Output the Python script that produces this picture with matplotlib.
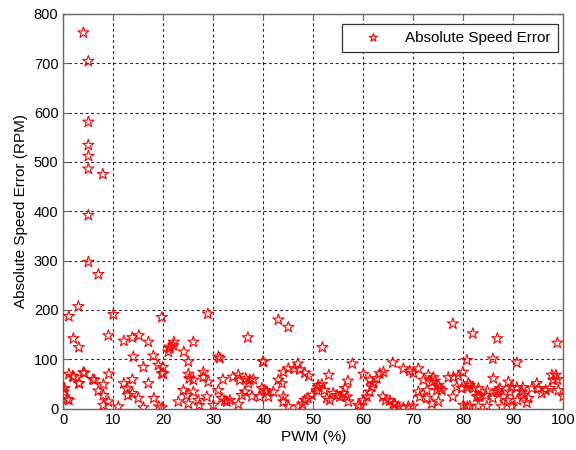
import numpy as np
import matplotlib
matplotlib.use("Agg")
import matplotlib.pyplot as plt

##### DATA #####
# tall spike at low PWM
pwm_low = [4.0, 5.0, 5.0, 5.0, 5.0, 5.0, 7.9, 5.0, 5.0, 7.0, 3.0, 1.1, 10.0, 19.7, 2.0, 3.1, 9.0]
err_low = [762, 704, 581, 534, 512, 486, 475, 392, 297, 272, 207, 187, 191, 185, 142, 124, 148]

# 0-20 % band
pwm_a = [12.1, 13.8, 15.1, 17.0, 14.0, 18.0, 16.0, 19.0, 19.7, 1.1, 2.0, 3.1, 4.2, 6.2,
         8.0, 9.1, 7.0, 8.0, 8.0, 0.2, 1.1, 9.0, 11.0, 12.1, 13.8, 12.7, 13.8, 12.9, 15.0,
         16.0, 17.0, 18.1, 19.1, 0.0, 0.1, 0.8, 4.0, 1.9, 3.2, 5.9]
err_a = [137, 144, 148, 135, 105, 107, 84, 88, 71, 70, 64, 51, 72, 58,
         49, 70, 36, 27, 7, 41, 17, 14, 4, 51, 59, 41, 31, 27, 21,
         2, 51, 21, 4, 41, 34, 19, 73, 66, 51, 59]

# 20-40 % band
pwm_b = [28.9, 36.9, 22.1, 21.2, 21.0, 26.0, 24.1, 25.0, 31.0, 40.0, 19.9, 20.0, 25.0,
         25.2, 26.0, 28.0, 28.0, 29.0, 31.9, 33.9, 35.0, 35.3, 36.5, 37.3, 38.0, 37.0,
         24.0, 24.7, 26.0, 23.0, 25.0, 27.0, 27.2, 28.7, 30.0, 31.0, 31.7, 32.3, 33.3,
         35.0, 35.7, 36.3, 37.7, 39.3, 39.7, 40.7, 19.7, 31.3, 32.7, 22.0, 21.3]
err_b = [192, 144, 135, 125, 115, 135, 115, 95, 105, 95, 84, 71, 70,
         61, 58, 74, 64, 54, 59, 64, 68, 58, 61, 58, 59, 51,
         37, 27, 34, 14, 10, 17, 7, 24, 7, 37, 21, 16, 17,
         9, 27, 34, 25, 24, 41, 34, 2, 102, 14, 128, 122]

# 40-65 % band
pwm_c = [43.0, 45.0, 51.8, 57.8, 60.0, 53.1, 56.9, 46.9, 44.0, 45.0, 46.2, 47.3, 48.3,
         49.1, 43.0, 43.7, 42.0, 40.3, 41.0, 44.0, 44.0, 45.0, 47.0, 47.8, 48.3, 48.9,
         49.7, 50.7, 51.0, 51.7, 50.9, 52.2, 52.7, 53.3, 54.0, 54.7, 55.3, 56.0, 56.3,
         56.7, 57.0, 59.0, 59.3, 60.0, 60.7, 61.3, 61.7, 62.0, 61.3, 63.3, 64.0, 62.7,
         63.9, 64.5, 66.0, 39.9]
err_c = [180, 165, 124, 91, 70, 68, 56, 91, 74, 81, 81, 79, 72,
         66, 58, 51, 34, 37, 24, 24, 14, 4, 4, 9, 17, 21,
         27, 37, 47, 49, 43, 37, 21, 17, 31, 27, 24, 31, 41,
         24, 14, 7, 4, 17, 24, 34, 44, 51, 58, 71, 74, 61,
         24, 17, 10, 95]

# 65-100 % band
pwm_d = [77.9, 81.9, 80.7, 65.9, 68.0, 69.3, 71.0, 70.0, 72.0, 73.0, 74.0, 73.7, 75.0,
         75.3, 74.7, 75.7, 77.0, 78.0, 79.0, 79.9, 78.7, 79.7, 80.7, 81.3, 82.0, 81.0,
         71.0, 71.3, 72.7, 72.7, 73.7, 75.0, 77.9, 65.3, 66.3, 67.0, 68.0, 69.0, 69.9,
         80.0, 80.8, 82.7, 83.0, 86.8, 98.8, 85.9, 90.7, 86.0, 89.0, 89.7, 90.7, 91.9,
         93.7, 94.7, 95.0, 95.7, 97.7, 98.5, 98.0, 98.8, 97.3, 99.0, 100.0, 87.3, 86.8,
         84.8, 84.5, 83.0, 85.9, 88.0, 88.8, 87.7, 84.7, 83.0, 81.3, 90.8, 92.7, 92.0,
         93.0, 89.3, 91.7, 96.5, 89.7, 74.3, 83.3, 87.0]
err_d = [172, 152, 98, 93, 81, 76, 81, 72, 58, 68, 63, 54, 47,
         41, 37, 37, 63, 64, 66, 74, 44, 41, 43, 47, 41, 51,
         34, 24, 37, 21, 10, 14, 24, 16, 9, 4, 2, 4, 5,
         7, 4, 24, 41, 142, 133, 101, 93, 61, 54, 43, 43, 43,
         41, 51, 41, 31, 68, 68, 58, 59, 41, 37, 25, 41, 34,
         36, 27, 25, 21, 24, 17, 4, 5, 5, 5, 17, 12, 27,
         21, 34, 34, 37, 4, 56, 24, 37]

pwm = pwm_low + pwm_a + pwm_b + pwm_c + pwm_d
err = err_low + err_a + err_b + err_c + err_d

##### PLOT #####
plt.rcParams["font.family"] = ["Liberation Sans", "DejaVu Sans"]
fig = plt.figure(figsize=(5.76, 4.5), dpi=100)
ax = fig.add_axes([0.110, 0.092, 0.868, 0.877])

ax.scatter(pwm, err, marker="*", s=70, facecolors="none", edgecolors="red",
           linewidths=0.8, label="Absolute Speed Error", zorder=3)

ax.set_xlim(0, 100)
ax.set_ylim(0, 800)
ax.set_xticks(np.arange(0, 101, 10))
ax.set_yticks(np.arange(0, 801, 100))
ax.set_xlabel("PWM (%)", fontsize=11, labelpad=2)
ax.set_ylabel("Absolute Speed Error (RPM)", fontsize=11, labelpad=4)
ax.tick_params(direction="in", top=True, right=True, labelsize=10.5, length=4, color="dimgrey")
ax.grid(True, linestyle=(0, (2.5, 2.5)), color="black", linewidth=0.8, alpha=0.85)
for sp in ax.spines.values():
    sp.set_color("dimgrey")
    sp.set_linewidth(1.0)

leg = ax.legend(loc="upper right", bbox_to_anchor=(0.989, 0.975), borderaxespad=0,
                fontsize=11, frameon=True, fancybox=False, edgecolor="#333333",
                framealpha=1, handlelength=3.2, handletextpad=0.5, borderpad=0.45,
                markerscale=0.75)
leg.get_frame().set_linewidth(0.9)

fig.savefig("out.png", dpi=100)
